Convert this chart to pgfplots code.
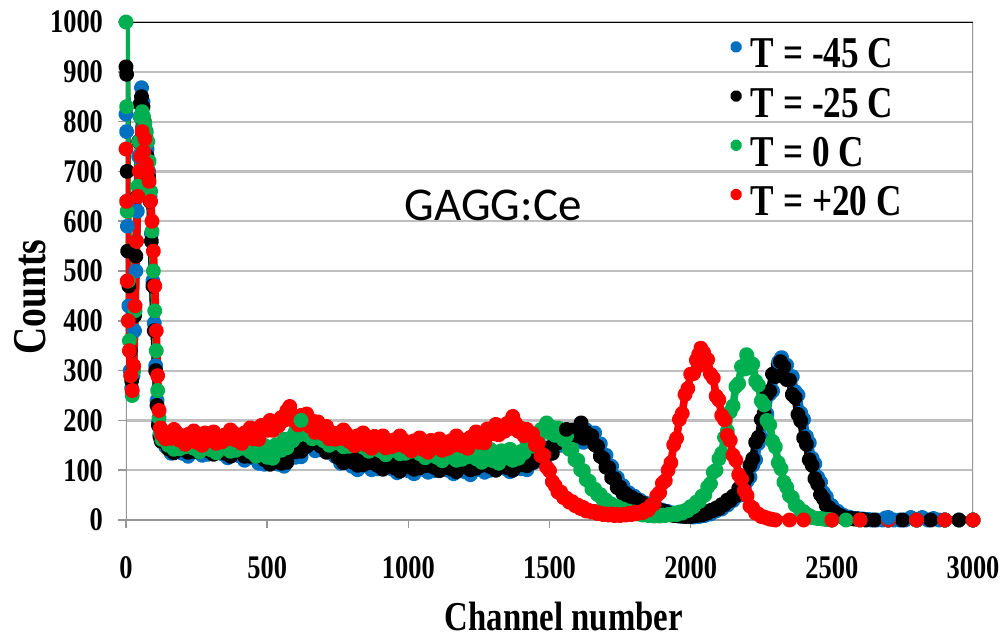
\documentclass[border=0pt]{standalone}
\usepackage{fontspec}
\setmainfont{Liberation Serif}[FakeStretch=0.8]
\newfontfamily\calib{Carlito}
\usepackage{pgfplots}
\pgfplotsset{compat=1.18}
\definecolor{cblue}{RGB}{0,112,192}
\definecolor{cgreen}{RGB}{0,176,80}
\definecolor{cred}{RGB}{255,0,0}
\definecolor{gridc}{RGB}{191,191,191}
\definecolor{axc}{RGB}{150,150,150}
\begin{document}
\begin{tikzpicture}
\begin{axis}[
  scale only axis, width=423.5pt, height=249pt,
  xmin=0, xmax=3000, ymin=0, ymax=1000,
  xtick={0,500,...,3000}, ytick={0,100,...,1000},
  tick pos=left, tick align=outside, major tick length=4pt,
  tick style={axc, line width=0.8pt},
  axis line style={draw=none},
  ymajorgrids, major grid style={gridc, line width=1.1pt},
  /pgf/number format/assume math mode=true,
  /pgf/number format/1000 sep={},
  ticklabel style={font=\fontsize{16.5}{18}\selectfont\bfseries},
  xticklabel style={yshift=-10.5pt},
  yticklabel style={xshift=-4pt},
  xlabel={Channel number}, ylabel={Counts},
  label style={font=\fontsize{20.5}{22}\selectfont\bfseries},
  xlabel style={at={(axis description cs:0.517,-0.194)}, anchor=center},
  ylabel style={at={(axis description cs:-0.113,0.448)}, anchor=center, font=\fontsize{23.5}{25}\selectfont\bfseries},
  legend style={draw=none, fill=none, at={(axis description cs:0.713,0.975)}, anchor=north west,
    font=\fontsize{22}{25}\selectfont\bfseries, row sep=4.5pt, inner sep=0pt,
    /tikz/every odd column/.append style={column sep=2.5pt}},
  legend cell align=left,
  legend image code/.code={\fill[#1] (0.3pt,4pt) circle (1pt);},
  every axis plot/.append style={line width=3.8pt, line join=round, mark=*, mark size=1.9pt, mark options={draw=none, solid}},
]
\draw[axc, line width=1.5pt] (rel axis cs:0,0) -- (rel axis cs:1,0);
\draw[axc, line width=0.7pt] (rel axis cs:0,0) -- (rel axis cs:0,1);
\draw[axc, line width=0.9pt] (rel axis cs:1,0) -- (rel axis cs:1,1);
\draw[black, line width=1pt] (rel axis cs:0,1) -- (rel axis cs:1,1);

\addplot[cblue, mark options={fill=cblue}] coordinates {
(0,815)(2,780)(4,640)(5,590)(10,430)(15,300)(20,265)(25,290)(30,380)(35,500)(40,620)(45,730)(50,810)(55,868)(60,840)(65,790)(70,760)(75,745)(80,700)(85,650)(90,575)(95,480)(100,395)(105,310)(110,240)(115,195)(120,172)(125,160)
(130,169)(140,148)(150,150)(160,134)(170,153)(180,144)(190,158)(200,134)(210,147)(220,128)(230,152)(240,142)(250,137)(260,153)(270,130)(280,144)(290,132)(300,146)(310,137)(320,155)(330,148)(340,133)(350,141)(360,125)(370,145)(380,137)(390,152)(400,129)(410,140)(420,120)(430,143)(440,132)(450,125)(460,140)(470,114)(480,126)(490,112)(500,124)(510,115)(520,126)(530,122)(540,112)(550,120)(560,108)(570,132)(580,127)(590,146)(600,126)(610,142)(620,127)(630,155)(640,149)(650,147)(660,163)(670,139)(680,153)(690,141)(700,154)(710,141)(720,156)(730,146)(740,128)(750,132)(760,114)(770,132)(780,121)(790,134)(800,108)(810,120)(820,101)(830,125)(840,114)(850,109)(860,125)(870,101)(880,114)(890,103)(900,116)(910,107)(920,125)(930,118)(940,103)(950,111)(960,95)(970,115)(980,107)(990,122)(1000,99)
(1010,112)(1020,93)(1030,118)(1040,108)(1050,102)(1060,119)(1070,96)(1080,110)(1090,99)(1100,113)(1110,104)(1120,122)(1130,116)(1140,100)(1150,108)(1160,93)(1170,113)(1180,105)(1190,120)(1200,97)(1210,110)(1220,91)(1230,117)(1240,107)(1250,102)(1260,119)(1270,96)(1280,111)(1290,100)(1300,114)(1310,105)(1320,124)(1330,118)(1340,104)(1350,112)(1360,97)(1370,118)(1380,110)(1390,126)(1400,103)(1410,118)(1420,101)(1430,128)(1440,120)(1450,117)(1460,138)(1470,118)(1480,136)(1490,128)(1500,146)(1510,141)(1520,163)(1530,161)(1540,150)(1550,162)(1560,149)(1570,171)(1580,165)(1590,181)(1600,163)(1610,176)(1620,156)(1630,181)(1640,170)(1650,165)(1660,175)(1670,149)(1680,153)(1690,131)(1700,130)(1710,108)(1720,108)(1730,86)(1740,85)(1750,67)(1760,69)(1770,54)(1780,55)(1790,45)(1800,48)(1810,38)(1820,40)(1830,32)(1840,34)(1850,28)(1860,30)(1870,23)(1880,24)(1890,18)(1900,20)(1910,14)(1920,17)(1930,12)(1940,14)(1950,9)(1960,10)(1970,7)(1980,9)(1990,7)(2000,9)
(2010,6)(2020,9)(2030,7)(2040,11)(2050,9)(2060,13)(2070,12)(2080,18)(2090,18)(2100,24)(2110,22)(2120,31)(2130,30)(2140,40)(2150,39)(2160,48)(2170,49)(2180,64)(2190,64)(2200,78)(2210,86)(2220,110)(2230,121)(2240,154)(2250,165)(2260,202)(2270,213)(2280,253)(2290,259)(2300,293)(2310,292)(2320,320)(2330,298)(2340,311)(2350,287)(2360,288)(2370,258)(2380,251)(2390,215)(2400,202)(2410,168)(2420,155)(2430,124)(2440,113)(2450,86)(2460,76)(2470,55)(2480,47)(2490,32)(2500,29)(2510,19)(2520,18)(2530,10)(2540,10)(2550,6)(2560,6)(2570,4)(2580,3)(2590,3)(2600,2)(2610,2)(2620,1)(2630,1)(2640,0)(2660,0)(2680,0)(2690,4)(2700,0)(2720,0)(2740,0)(2760,0)(2780,5)(2800,0)(2820,5)(2840,0)(2860,3)(2880,0)(2900,0)(2950,0)(3000,0)
};
\addlegendentry{T = -45 C}

\addplot[black, mark options={fill=black}] coordinates {
(0,910)(2,895)(4,700)(6,540)(10,470)(15,340)(20,280)(25,300)(30,410)(35,530)(40,650)(45,760)(50,835)(55,850)(60,830)(65,800)(70,770)(75,730)(80,690)(85,640)(90,560)(95,470)(100,380)(105,300)(110,230)(115,190)(120,168)(125,158)
(130,164)(140,172)(150,143)(160,155)(170,135)(180,159)(190,148)(200,142)(210,159)(220,136)(230,149)(240,138)(250,152)(260,143)(270,161)(280,154)(290,139)(300,147)(310,132)(320,151)(330,143)(340,158)(350,134)(360,147)(370,128)(380,152)(390,142)(400,137)(410,153)(420,128)(430,141)(440,128)(450,141)(460,130)(470,146)(480,138)(490,121)(500,127)(510,112)(520,131)(530,123)(540,137)(550,114)(560,131)(570,116)(580,144)(590,138)(600,137)(610,158)(620,138)(630,156)(640,148)(650,166)(660,155)(670,172)(680,164)(690,148)(700,154)(710,136)(720,152)(730,141)(740,152)(750,126)(760,136)(770,115)(780,137)(790,125)(800,117)(810,133)(820,110)(830,123)(840,111)(850,125)(860,115)(870,132)(880,125)(890,110)(900,117)(910,102)(920,122)(930,113)(940,128)(950,105)(960,118)(970,98)(980,123)(990,113)(1000,108)
(1010,125)(1020,102)(1030,116)(1040,105)(1050,118)(1060,109)(1070,127)(1080,121)(1090,106)(1100,114)(1110,99)(1120,119)(1130,111)(1140,126)(1150,103)(1160,116)(1170,97)(1180,122)(1190,112)(1200,107)(1210,124)(1220,101)(1230,115)(1240,104)(1250,118)(1260,110)(1270,128)(1280,122)(1290,107)(1300,115)(1310,100)(1320,121)(1330,113)(1340,128)(1350,105)(1360,119)(1370,100)(1380,125)(1390,116)(1400,111)(1410,130)(1420,109)(1430,124)(1440,115)(1450,131)(1460,125)(1470,147)(1480,144)(1490,133)(1500,144)(1510,134)(1520,158)(1530,155)(1540,174)(1550,156)(1560,171)(1570,157)(1580,181)(1590,173)(1600,170)(1610,186)(1620,164)(1630,176)(1640,165)(1650,169)(1660,151)(1670,148)(1680,128)(1690,124)(1700,106)(1710,105)(1720,85)(1730,83)(1740,65)(1750,66)(1760,53)(1770,53)(1780,44)(1790,46)(1800,38)(1810,40)(1820,33)(1830,34)(1840,28)(1850,29)(1860,23)(1870,25)(1880,18)(1890,20)(1900,15)(1910,17)(1920,12)(1930,13)(1940,9)(1950,10)(1960,8)(1970,10)(1980,7)(1990,9)(2000,7)
(2010,10)(2020,9)(2030,12)(2040,10)(2050,13)(2060,14)(2070,19)(2080,19)(2090,24)(2100,23)(2110,31)(2120,31)(2130,40)(2140,39)(2150,48)(2160,49)(2170,63)(2180,64)(2190,78)(2200,86)(2210,110)(2220,123)(2230,156)(2240,166)(2250,202)(2260,214)(2270,252)(2280,259)(2290,293)(2300,288)(2310,312)(2320,294)(2330,308)(2340,282)(2350,281)(2360,252)(2370,246)(2380,212)(2390,199)(2400,165)(2410,152)(2420,121)(2430,110)(2440,83)(2450,72)(2460,51)(2470,43)(2480,29)(2490,25)(2500,17)(2510,16)(2520,9)(2530,9)(2540,5)(2550,4)(2560,3)(2570,3)(2580,2)(2590,2)(2600,1)(2610,1)(2620,0)(2650,0)(2700,0)(2750,0)(2800,0)(2850,0)(2900,0)(2950,0)(3000,0)
};
\addlegendentry{T = -25 C}

\addplot[cgreen, mark options={fill=cgreen}] coordinates {
(0,1000)(2,830)(4,620)(8,480)(12,360)(17,290)(22,250)(27,300)(32,420)(37,560)(42,670)(47,760)(52,810)(57,820)(62,810)(67,795)(72,780)(77,760)(82,720)(87,660)(92,580)(97,500)(102,420)(107,340)(112,260)(117,205)(122,175)(127,162)
(130,178)(140,161)(150,150)(160,166)(170,142)(180,155)(190,143)(200,156)(210,147)(220,165)(230,159)(240,144)(250,152)(260,137)(270,157)(280,149)(290,164)(300,141)(310,154)(320,135)(330,160)(340,149)(350,144)(360,161)(370,138)(380,151)(390,140)(400,154)(410,144)(420,161)(430,154)(440,137)(450,144)(460,128)(470,146)(480,137)(490,150)(500,126)(510,141)(520,124)(530,151)(540,143)(550,140)(560,162)(570,145)(580,164)(590,159)(600,178)(610,170)(620,189)(630,184)(640,171)(650,180)(660,163)(670,181)(680,171)(690,184)(700,159)(710,170)(720,150)(730,173)(740,162)(750,155)(760,171)(770,147)(780,160)(790,148)(800,161)(810,151)(820,169)(830,162)(840,146)(850,153)(860,138)(870,157)(880,148)(890,162)(900,139)(910,151)(920,131)(930,156)(940,145)(950,140)(960,156)(970,133)(980,146)(990,134)(1000,148)
(1010,138)(1020,155)(1030,149)(1040,133)(1050,140)(1060,125)(1070,144)(1080,135)(1090,150)(1100,126)(1110,138)(1120,119)(1130,143)(1140,133)(1150,127)(1160,144)(1170,120)(1180,134)(1190,122)(1200,136)(1210,127)(1220,145)(1230,138)(1240,123)(1250,131)(1260,116)(1270,136)(1280,127)(1290,142)(1300,119)(1310,132)(1320,114)(1330,139)(1340,130)(1350,125)(1360,142)(1370,120)(1380,134)(1390,124)(1400,138)(1410,135)(1420,158)(1430,158)(1440,148)(1450,162)(1460,158)(1470,182)(1480,182)(1490,195)(1500,175)(1510,186)(1520,170)(1530,185)(1540,171)(1550,161)(1560,168)(1570,142)(1580,142)(1590,121)(1600,120)(1610,101)(1620,99)(1630,81)(1640,78)(1650,62)(1660,62)(1670,51)(1680,51)(1690,40)(1700,40)(1710,32)(1720,32)(1730,26)(1740,27)(1750,21)(1760,22)(1770,17)(1780,18)(1790,15)(1800,16)(1810,12)(1820,13)(1830,10)(1840,11)(1850,9)(1860,11)(1870,8)(1880,10)(1890,8)(1900,10)(1910,9)(1920,11)(1930,10)(1940,13)(1950,11)(1960,16)(1970,14)(1980,19)(1990,19)(2000,27)
(2010,27)(2020,36)(2030,37)(2040,48)(2050,50)(2060,66)(2070,73)(2080,96)(2090,100)(2100,123)(2110,134)(2120,166)(2130,179)(2140,217)(2150,229)(2160,268)(2170,274)(2180,308)(2190,303)(2200,328)(2210,305)(2220,313)(2230,279)(2240,271)(2250,239)(2260,231)(2270,200)(2280,191)(2290,158)(2300,147)(2310,115)(2320,103)(2330,76)(2340,66)(2350,49)(2360,45)(2370,30)(2380,27)(2390,18)(2400,17)(2410,9)(2420,9)(2430,5)(2440,4)(2450,3)(2460,3)(2470,2)(2480,1)(2490,1)(2500,0)(2550,0)(2600,0)(2700,0)(2800,0)(2900,0)(3000,0)
};
\addlegendentry{T = 0 C}

\addplot[cred, mark options={fill=cred}] coordinates {
(0,745)(2,640)(4,480)(8,400)(12,340)(17,290)(22,260)(27,310)(32,430)(37,560)(42,650)(47,700)(52,730)(57,780)(62,740)(67,765)(72,715)(77,700)(82,680)(87,640)(92,600)(97,540)(102,470)(107,380)(112,290)(117,220)(122,185)(127,172)
(130,178)(140,163)(150,174)(160,164)(170,182)(180,175)(190,160)(200,167)(210,152)(220,172)(230,164)(240,179)(250,156)(260,169)(270,150)(280,175)(290,165)(300,160)(310,177)(320,154)(330,168)(340,157)(350,171)(360,163)(370,181)(380,175)(390,160)(400,168)(410,154)(420,175)(430,168)(440,185)(450,163)(460,179)(470,162)(480,190)(490,182)(500,180)(510,200)(520,180)(530,197)(540,189)(550,206)(560,200)(570,220)(580,217)(590,201)(600,208)(610,191)(620,210)(630,200)(640,213)(650,188)(660,199)(670,176)(680,197)(690,182)(700,173)(710,188)(720,163)(730,175)(740,162)(750,174)(760,164)(770,181)(780,174)(790,158)(800,165)(810,149)(820,169)(830,160)(840,175)(850,151)(860,163)(870,144)(880,168)(890,158)(900,152)(910,169)(920,145)(930,159)(940,147)(950,161)(960,151)(970,169)(980,162)(990,147)(1000,154)
(1010,139)(1020,159)(1030,150)(1040,165)(1050,142)(1060,155)(1070,136)(1080,160)(1090,150)(1100,145)(1110,163)(1120,140)(1130,155)(1140,144)(1150,159)(1160,150)(1170,169)(1180,163)(1190,149)(1200,157)(1210,144)(1220,166)(1230,160)(1240,177)(1250,156)(1260,172)(1270,155)(1280,183)(1290,175)(1300,173)(1310,192)(1320,171)(1330,187)(1340,178)(1350,194)(1360,184)(1370,201)(1380,194)(1390,178)(1400,184)(1410,169)(1420,182)(1430,171)(1440,173)(1450,151)(1460,154)(1470,129)(1480,130)(1490,106)(1500,99)(1510,77)(1520,69)(1530,56)(1540,56)(1550,45)(1560,44)(1570,36)(1580,37)(1590,29)(1600,30)(1610,23)(1620,25)(1630,18)(1640,19)(1650,16)(1660,17)(1670,13)(1680,14)(1690,11)(1700,12)(1710,10)(1720,12)(1730,9)(1740,11)(1750,9)(1760,11)(1770,10)(1780,13)(1790,11)(1800,15)(1810,13)(1820,16)(1830,15)(1840,21)(1850,20)(1860,30)(1870,32)(1880,49)(1890,55)(1900,74)(1910,79)(1920,100)(1930,115)(1940,151)(1950,164)(1960,202)(1970,214)(1980,252)(1990,264)(2000,293)
(2010,294)(2020,321)(2030,310)(2040,329)(2050,314)(2060,322)(2070,293)(2080,285)(2090,249)(2100,241)(2110,210)(2120,201)(2130,170)(2140,160)(2150,130)(2160,120)(2170,91)(2180,82)(2190,59)(2200,49)(2210,28)(2220,24)(2230,14)(2240,12)(2250,7)(2260,6)(2270,4)(2280,2)(2290,1)(2300,0)(2350,0)(2400,0)(2500,0)(2600,0)(2700,0)(2800,0)(2900,0)(3000,0)
};
\addlegendentry{T = +20 C}

\addplot[only marks, forget plot, cblue, mark options={fill=cblue}] coordinates {(2322,326)(2312,318)(2700,5)};
\addplot[only marks, forget plot, black, mark options={fill=black}] coordinates {(1612,195)(1560,182)(2318,318)};
\addplot[only marks, forget plot, cgreen, mark options={fill=cgreen}] coordinates {(2198,332)(620,200)};
\addplot[only marks, forget plot, cred, mark options={fill=cred}] coordinates {(2036,345)(2046,336)(2028,332)(580,228)(1370,208)};

\node[font=\calib\fontsize{23.5}{26}\selectfont] at (axis cs:1300,632) {GAGG:Ce};
\end{axis}
\pgfresetboundingbox
\path[use as bounding box] (-63pt,-59pt) rectangle (439.5pt,260pt);
\end{tikzpicture}
\end{document}
